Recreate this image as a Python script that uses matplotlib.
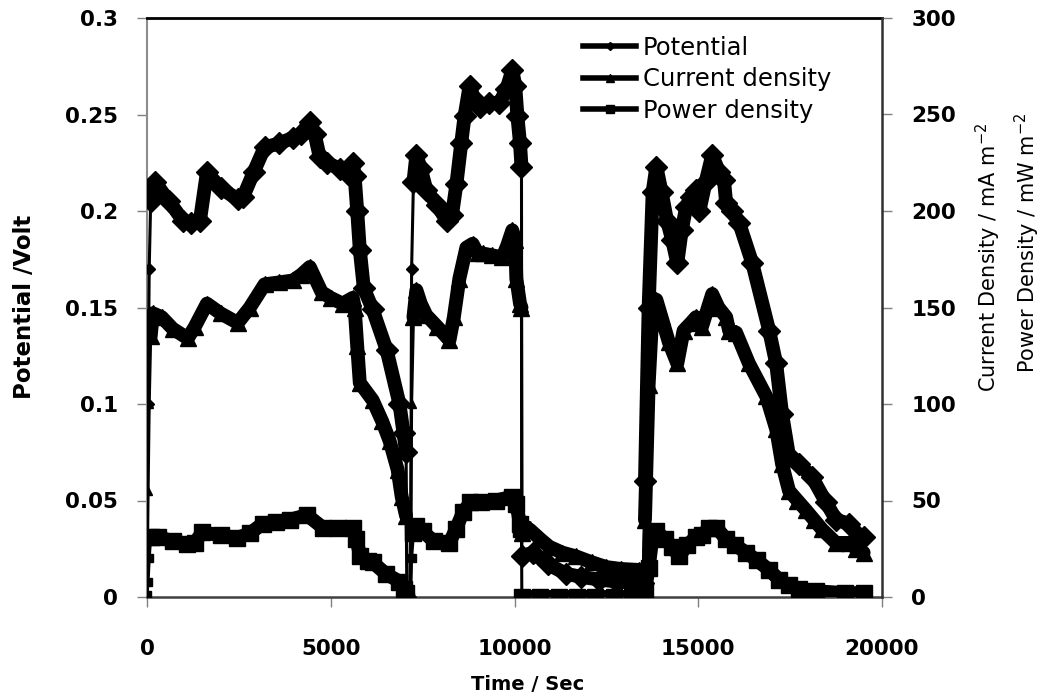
import numpy as np
import matplotlib
matplotlib.use('Agg')
import matplotlib.pyplot as plt
from matplotlib.lines import Line2D
from matplotlib.ticker import FuncFormatter

# Potential (V) vs time (s)
pot_time = [0, 30, 60, 100, 220, 600, 980, 1200, 1440, 1630, 2000, 2470, 2610, 2900,
            3200, 3600, 3970, 4200, 4430, 4560, 4700, 4890, 5240, 5460, 5600, 5650,
            5720, 5790, 5900, 6140, 6520, 6870, 6980, 7050, 7080, 7170,
            7200, 7250, 7330, 7450, 7600, 7900, 8150, 8300, 8420, 8550, 8640, 8780,
            8900, 9050, 9300, 9590, 9780, 9940, 10020, 10080, 10150, 10190,
            10200, 10490, 10900, 11410, 11800, 12310, 12800, 13200, 13500,
            13550, 13650, 13760, 13860, 14000, 14150, 14290, 14430, 14550, 14670,
            14800, 14940, 15030, 15200, 15380, 15570, 15700, 15760, 15920, 16110,
            16470, 16930, 17120, 17280, 17470, 17740, 18100, 18480, 18750, 19100,
            19370, 19500]
pot_volt = [0.02, 0.1, 0.17, 0.205, 0.215, 0.205, 0.195, 0.194, 0.195, 0.22, 0.212, 0.206, 0.207, 0.22,
            0.233, 0.235, 0.238, 0.24, 0.246, 0.24, 0.228, 0.225, 0.222, 0.219, 0.225, 0.218,
            0.2, 0.18, 0.16, 0.149, 0.128, 0.1, 0.085, 0.075, 0.0, 0.0,
            0.17, 0.215, 0.229, 0.222, 0.211, 0.203, 0.195, 0.198, 0.214, 0.235, 0.249, 0.265,
            0.258, 0.254, 0.256, 0.256, 0.263, 0.273, 0.265, 0.249, 0.235, 0.223,
            0.021, 0.023, 0.017, 0.012, 0.0105, 0.009, 0.008, 0.0075, 0.007,
            0.06, 0.15, 0.21, 0.223, 0.21, 0.195, 0.185, 0.173, 0.19, 0.202,
            0.207, 0.211, 0.2, 0.215, 0.229, 0.22, 0.216, 0.204, 0.2, 0.194,
            0.173, 0.138, 0.121, 0.095, 0.073, 0.069, 0.062, 0.049, 0.04, 0.038,
            0.031, 0.031]

# Current density (mA m-2) vs time (s)
cur_time = [0, 30, 60, 100, 160, 400, 700, 1110, 1300, 1630, 2000, 2470, 2800, 3200,
            3600, 3970, 4200, 4430, 4750, 5000, 5320, 5600, 5650, 5720, 5790, 6140,
            6400, 6600, 6820, 6930, 7050, 7080, 7170,
            7200, 7250, 7330, 7450, 7600, 7900, 8230, 8350, 8500, 8690, 8860, 9000,
            9130, 9400, 9670, 9800, 9940, 10020, 10050, 10150, 10190,
            10200, 10410, 10700, 10950, 11300, 11680, 12100, 12500, 12900, 13400, 13500,
            13550, 13650, 13760, 13860, 14000, 14200, 14430, 14600, 14800, 14940,
            15100, 15380, 15550, 15760, 15840, 16030, 16380, 16850, 17120, 17280,
            17470, 17700, 17930, 18150, 18370, 18750, 19100, 19300, 19500]
cur_dens = [2, 55, 100, 135, 147, 145, 139, 134, 140, 152, 147, 142, 150, 162,
            163, 164, 167, 171, 158, 155, 152, 155, 150, 130, 111, 102,
            91, 81, 66, 52, 42, 0, 0,
            100, 145, 159, 152, 146, 140, 133, 145, 165, 181, 183, 178,
            178, 177, 176, 182, 190, 185, 165, 152, 150,
            33, 35, 30, 26, 23, 21, 18, 15.5, 14.5, 14, 14,
            40, 110, 150, 154, 145, 132, 121, 138, 142, 145,
            140, 157, 150, 145, 138, 137, 121, 104, 87, 69,
            55, 50, 45, 40, 35, 28, 28, 25, 23]

# Power density (mW m-2) vs time (s)
pow_time = [0, 30, 60, 100, 300, 700, 1090, 1300, 1500, 2000, 2440, 2800, 3150, 3500,
            3890, 4350, 4780, 5200, 5600, 5700, 5800, 6000, 6140, 6500, 6870, 7000,
            7050, 7080, 7170,
            7200, 7250, 7330, 7500, 7800, 8230, 8400, 8600, 8800, 9100, 9500, 9940,
            10050, 10150, 10190,
            10200, 10700, 11200, 11700, 12200, 12700, 13200, 13500,
            13550, 13650, 13760, 13860, 14100, 14290, 14480, 14700, 14940, 15100,
            15300, 15490, 15760, 16000, 16300, 16600, 16930, 17200, 17470, 17740,
            18200, 19000, 19500]
pow_dens = [1, 8, 20, 31, 31, 29, 27.5, 28, 33.5, 32, 30.5, 33, 38, 39,
            40, 42.5, 36, 35.5, 35.5, 30, 21, 18.5, 18, 12, 8, 4,
            2, 0, 0,
            20, 33, 37, 34, 29, 28, 35, 44, 49, 49, 50, 52,
            48, 38, 35,
            0, 0, 0, 0, 0, 0, 0, 0,
            3, 15, 32, 34, 30, 26, 21, 27, 31, 32,
            36, 36, 30, 27, 23, 19, 14, 9, 6, 4,
            3, 2, 2]

# time windows where the recording is continuous (drawn as a thick band)
RUNS = [(100, 7050), (7250, 10190), (10200, 13500), (13550, 19500)]


def draw_series(ax, t, y, marker):
    t = np.asarray(t, dtype=float)
    y = np.asarray(y, dtype=float)
    ax.plot(t, y, color='black', lw=2.2, marker=marker, ms=6, zorder=3)
    for t0, t1 in RUNS:
        m = (t >= t0) & (t <= t1)
        ax.plot(t[m], y[m], color='black', lw=10, marker=marker, ms=11,
                solid_joinstyle='round', solid_capstyle='round', zorder=3)


W, H = 1051, 700
fig = plt.figure(figsize=(W / 100, H / 100), dpi=100, facecolor='white')
ax1 = fig.add_axes([147 / W, 1 - 597 / H, (882 - 147) / W, (597 - 18) / H])
ax2 = ax1.twinx()

draw_series(ax1, pot_time, pot_volt, 'D')
draw_series(ax2, cur_time, cur_dens, '^')
draw_series(ax2, pow_time, pow_dens, 's')

# Axes ranges and ticks
ax1.set_xlim(0, 20000)
ax1.set_ylim(0, 0.3)
ax2.set_ylim(0, 300)
ax1.set_xticks(np.arange(0, 20001, 5000))
ax1.set_yticks(np.arange(0, 0.301, 0.05))
ax2.set_yticks(np.arange(0, 301, 50))
ax1.yaxis.set_major_formatter(FuncFormatter(lambda v, p: '%g' % round(v, 3)))

ax1.tick_params(axis='y', direction='out', length=7, width=1, color='#808080',
                pad=14, labelsize=15.5)
ax1.tick_params(axis='x', direction='out', length=7, width=1, color='#808080',
                pad=23, labelsize=15.5)
ax2.tick_params(axis='y', direction='out', length=7, width=1, color='#808080',
                pad=14, labelsize=15.5)
for lab in ax1.get_xticklabels() + ax1.get_yticklabels() + ax2.get_yticklabels():
    lab.set_fontweight('bold')

# Frame
ax1.spines['top'].set_color('black')
ax1.spines['top'].set_linewidth(2)
ax1.spines['right'].set_visible(False)
ax1.spines['left'].set_color('#8c8c8c')
ax1.spines['left'].set_linewidth(1.5)
ax1.spines['bottom'].set_color('#404040')
ax1.spines['bottom'].set_linewidth(1.8)
for s in ['top', 'left', 'bottom']:
    ax2.spines[s].set_visible(False)
ax2.spines['right'].set_color('#303030')
ax2.spines['right'].set_linewidth(1.8)

# Axis titles
fig.text(528 / W, 1 - 685 / H, 'Time / Sec', ha='center', va='center',
         fontsize=14, fontweight='bold')
fig.text(25 / W, 1 - 307 / H, 'Potential /Volt', ha='center', va='center',
         rotation=90, fontsize=16.5, fontweight='bold')
fig.text(988 / W, 1 - 257 / H, 'Current Density / mA m$^{-2}$', ha='center',
         va='center', rotation=90, fontsize=15)
fig.text(1027 / W, 1 - 243 / H, 'Power Density / mW m$^{-2}$', ha='center',
         va='center', rotation=90, fontsize=15)

# Legend
handles = [Line2D([], [], color='black', lw=4, marker='D', ms=4),
           Line2D([], [], color='black', lw=4, marker='^', ms=6),
           Line2D([], [], color='black', lw=4, marker='s', ms=6)]
fig.legend(handles, ['Potential', 'Current density', 'Power density'],
           loc='upper left', bbox_to_anchor=(583 / W, 1 - 36 / H), frameon=False,
           fontsize=17.5, handlelength=2.2, handletextpad=0.25, labelspacing=0.3,
           borderpad=0, borderaxespad=0)

fig.savefig('out.png', dpi=100, facecolor='white')
